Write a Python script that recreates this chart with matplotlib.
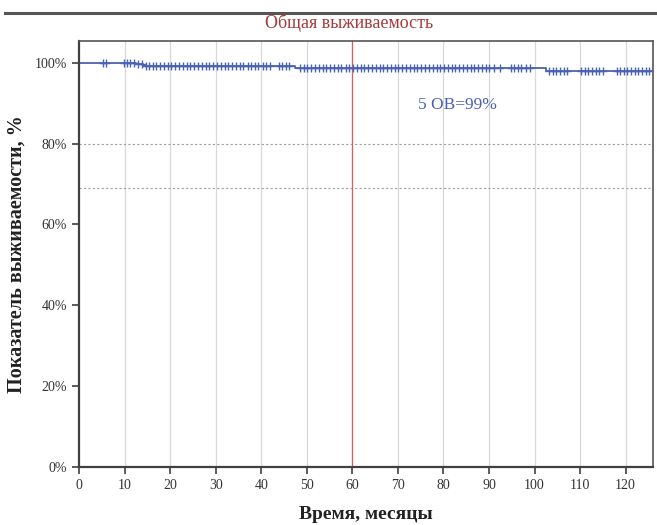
import numpy as np
import matplotlib
matplotlib.use("Agg")
import matplotlib.pyplot as plt
from matplotlib.lines import Line2D

# step curve: times where survival changes and the levels
step_times = [0, 12.5, 14, 47.5, 102.5, 126]
step_surv = [100, 99.6, 99.3, 98.7, 97.9, 97.9]

# censored observations (months)
censor_times = [5.3, 6.0, 9.8, 10.5, 11.2, 12.0, 13.0, 13.8, 14.6, 15.4, 16.2, 17.0,
                17.8, 18.6, 19.5, 20.3, 21.1, 22.0, 22.8, 23.6, 24.4, 25.3, 26.1,
                27.0, 27.8, 28.6, 29.5, 30.3, 31.1, 32.0, 32.8, 33.6, 34.5, 35.3,
                36.1, 37.0, 37.8, 38.6, 39.4, 40.3, 41.1, 42.0, 43.8, 44.6, 45.4, 46.2,
                48.5, 49.3, 50.1, 51.0, 51.8, 52.6, 53.5, 54.3, 55.1, 56.0, 56.8,
                57.6, 58.5, 59.3, 60.1, 61.0, 61.8, 62.6, 63.5, 64.3, 65.1, 66.0,
                66.8, 67.6, 68.5, 69.3, 70.1, 71.0, 71.8, 72.6, 73.5, 74.3, 75.1,
                76.0, 76.8, 77.6, 78.5, 79.3, 80.1, 81.0, 81.8, 82.6, 83.5, 84.3,
                85.1, 86.0, 86.8, 87.6, 88.5, 89.3, 90.1, 91.0, 92.5, 94.8, 95.5,
                96.3, 97.0, 98.2, 99.0, 103.2, 104.0, 104.8, 105.6, 106.4, 107.2,
                110.2, 111.0, 111.8, 112.6, 113.4, 114.2, 115.0, 118.0, 118.8, 119.6,
                120.4, 121.2, 122.0, 122.8, 123.6, 124.4, 125.2]

xticks = list(range(0, 121, 10))
yticks = [0, 20, 40, 60, 80, 100]
ytick_labels = ["0%", "20%", "40%", "60%", "80%", "100%"]
ref_lines = [80, 69]

serif = "Liberation Serif"
blue = "#4a62b2"

fig = plt.figure(figsize=(6.57, 5.25), dpi=100)
ax = fig.add_axes([79 / 657, 1 - 467 / 525, (653 - 79) / 657, (467 - 41) / 525])

for x in xticks[1:]:
    ax.axvline(x, color="#d8d8d8", lw=0.9, zorder=0)
for y in ref_lines:
    ax.axhline(y, color="#a0a0a0", lw=0.8, ls=(0, (2, 2)), zorder=0)

ax.axvline(60, color="#d86060", lw=0.9, zorder=1)

ax.step(step_times, step_surv, where="post", color=blue, lw=1.3, zorder=2)
cy = [step_surv[np.searchsorted(step_times, t, side="right") - 1] for t in censor_times]
ax.plot(censor_times, cy, ls="none", marker="+", color=blue, ms=6, mew=1.0, zorder=3)

ax.text(74.5, 89.5, "5 ОВ=99%", color=blue, fontsize=12.5, family=serif, va="center")

ax.set_xlim(0, 126)
ax.set_ylim(0, 105.4)
ax.set_xticks(xticks)
ax.set_yticks(yticks)
ax.set_yticklabels(ytick_labels)
ax.tick_params(axis="both", direction="out", length=5, width=1.2, color="#404040",
               labelsize=10, labelcolor="#333333")
for lab in ax.get_xticklabels() + ax.get_yticklabels():
    lab.set_family(serif)

for side in ["left", "bottom"]:
    ax.spines[side].set_color("#404040")
    ax.spines[side].set_linewidth(1.6)
for side in ["top", "right"]:
    ax.spines[side].set_color("#555555")
    ax.spines[side].set_linewidth(1.2)

ax.set_xlabel("Время, месяцы", family=serif, fontsize=14, fontweight="bold",
              color="#222222", labelpad=10)
ax.set_ylabel("Показатель выживаемости, %", family=serif, fontsize=14.5,
              fontweight="bold", color="#222222", labelpad=6)

fig.text(349 / 657, 1 - 23 / 525, "Общая выживаемость", family=serif, fontsize=13,
         color="#a83a3a", ha="center", va="center")
fig.add_artist(Line2D([5 / 657, 1.0], [1 - 13 / 525, 1 - 13 / 525], color="#555555",
                      lw=2.2, transform=fig.transFigure))

fig.savefig("out.png", dpi=100)
